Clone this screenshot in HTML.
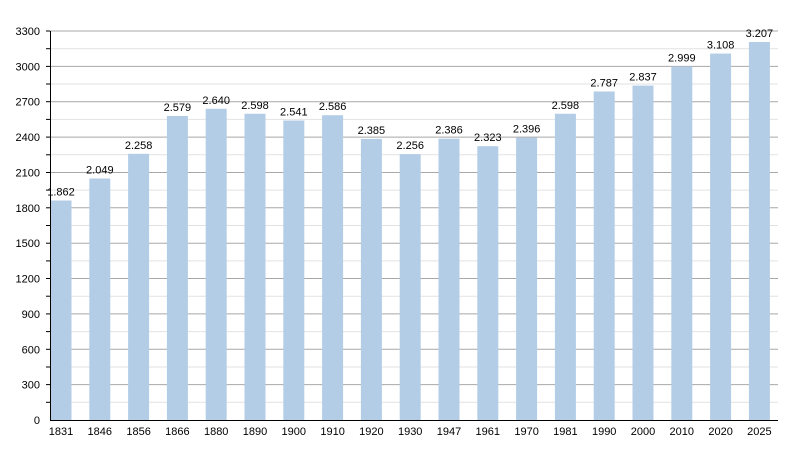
<!DOCTYPE html>
<html><head><meta charset="utf-8"><style>body{margin:0;background:#fff}svg{display:block}</style></head><body>
<svg width="800" height="450" xmlns="http://www.w3.org/2000/svg" font-family="Liberation Sans, sans-serif" font-size="11">
<rect width="800" height="450" fill="#fff"/>
<g stroke="#e2e2e2">
<line x1="50" x2="778" y1="402.3" y2="402.3"/><line x1="50" x2="778" y1="367" y2="367"/><line x1="50" x2="778" y1="331.6" y2="331.6"/><line x1="50" x2="778" y1="296.2" y2="296.2"/><line x1="50" x2="778" y1="260.9" y2="260.9"/><line x1="50" x2="778" y1="225.5" y2="225.5"/><line x1="50" x2="778" y1="190.1" y2="190.1"/><line x1="50" x2="778" y1="154.8" y2="154.8"/><line x1="50" x2="778" y1="119.4" y2="119.4"/><line x1="50" x2="778" y1="84" y2="84"/><line x1="50" x2="778" y1="48.7" y2="48.7"/>
</g>
<g stroke="#a8a8a8">
<line x1="50" x2="778" y1="384.6" y2="384.6"/><line x1="50" x2="778" y1="349.3" y2="349.3"/><line x1="50" x2="778" y1="313.9" y2="313.9"/><line x1="50" x2="778" y1="278.5" y2="278.5"/><line x1="50" x2="778" y1="243.2" y2="243.2"/><line x1="50" x2="778" y1="207.8" y2="207.8"/><line x1="50" x2="778" y1="172.5" y2="172.5"/><line x1="50" x2="778" y1="137.1" y2="137.1"/><line x1="50" x2="778" y1="101.7" y2="101.7"/><line x1="50" x2="778" y1="66.4" y2="66.4"/><line x1="50" x2="778" y1="31" y2="31"/>
</g>
<g stroke="#000">
<line x1="46" x2="50" y1="402.3" y2="402.3"/><line x1="46" x2="50" y1="367" y2="367"/><line x1="46" x2="50" y1="331.6" y2="331.6"/><line x1="46" x2="50" y1="296.2" y2="296.2"/><line x1="46" x2="50" y1="260.9" y2="260.9"/><line x1="46" x2="50" y1="225.5" y2="225.5"/><line x1="46" x2="50" y1="190.1" y2="190.1"/><line x1="46" x2="50" y1="154.8" y2="154.8"/><line x1="46" x2="50" y1="119.4" y2="119.4"/><line x1="46" x2="50" y1="84" y2="84"/><line x1="46" x2="50" y1="48.7" y2="48.7"/>
<line x1="46" x2="50" y1="384.6" y2="384.6"/><line x1="46" x2="50" y1="349.3" y2="349.3"/><line x1="46" x2="50" y1="313.9" y2="313.9"/><line x1="46" x2="50" y1="278.5" y2="278.5"/><line x1="46" x2="50" y1="243.2" y2="243.2"/><line x1="46" x2="50" y1="207.8" y2="207.8"/><line x1="46" x2="50" y1="172.5" y2="172.5"/><line x1="46" x2="50" y1="137.1" y2="137.1"/><line x1="46" x2="50" y1="101.7" y2="101.7"/><line x1="46" x2="50" y1="66.4" y2="66.4"/><line x1="46" x2="50" y1="31" y2="31"/>
</g>
<g text-anchor="end" fill="#000">
<text x="40" y="424">0</text><text x="40" y="388.6">300</text><text x="40" y="353.3">600</text><text x="40" y="317.9">900</text><text x="40" y="282.5">1200</text><text x="40" y="247.2">1500</text><text x="40" y="211.8">1800</text><text x="40" y="176.5">2100</text><text x="40" y="141.1">2400</text><text x="40" y="105.7">2700</text><text x="40" y="70.4">3000</text><text x="40" y="35">3300</text>
</g>
<g fill="#b3cde6">
<rect x="50.5" y="200.5" width="21" height="219.5"/>
<rect x="89.3" y="178.5" width="21" height="241.5"/>
<rect x="128.1" y="153.8" width="21" height="266.2"/>
<rect x="166.9" y="116" width="21" height="304"/>
<rect x="205.7" y="108.8" width="21" height="311.2"/>
<rect x="244.5" y="113.75" width="21" height="306.25"/>
<rect x="283.3" y="120.5" width="21" height="299.5"/>
<rect x="322.1" y="115.2" width="21" height="304.8"/>
<rect x="360.9" y="138.9" width="21" height="281.1"/>
<rect x="399.7" y="154.1" width="21" height="265.9"/>
<rect x="438.5" y="138.7" width="21" height="281.3"/>
<rect x="477.3" y="146.2" width="21" height="273.8"/>
<rect x="516.1" y="137.6" width="21" height="282.4"/>
<rect x="554.9" y="113.75" width="21" height="306.25"/>
<rect x="593.7" y="91.5" width="21" height="328.5"/>
<rect x="632.5" y="85.6" width="21" height="334.4"/>
<rect x="671.3" y="66.5" width="21" height="353.5"/>
<rect x="710.1" y="53.6" width="21" height="366.4"/>
<rect x="748.9" y="42" width="21" height="378"/>
</g>
<g text-anchor="middle" fill="#000">
<text x="61" y="195.5">1.862</text>
<text x="99.8" y="173.5">2.049</text>
<text x="138.6" y="148.8">2.258</text>
<text x="177.4" y="111">2.579</text>
<text x="216.2" y="103.8">2.640</text>
<text x="255" y="108.75">2.598</text>
<text x="293.8" y="115.5">2.541</text>
<text x="332.6" y="110.2">2.586</text>
<text x="371.4" y="133.9">2.385</text>
<text x="410.2" y="149.1">2.256</text>
<text x="449" y="133.7">2.386</text>
<text x="487.8" y="141.2">2.323</text>
<text x="526.6" y="132.6">2.396</text>
<text x="565.4" y="108.75">2.598</text>
<text x="604.2" y="86.5">2.787</text>
<text x="643" y="80.6">2.837</text>
<text x="681.8" y="61.5">2.999</text>
<text x="720.6" y="48.6">3.108</text>
<text x="759.4" y="37">3.207</text>
</g>
<g text-anchor="middle" fill="#000">
<text x="61" y="435">1831</text><text x="99.8" y="435">1846</text><text x="138.6" y="435">1856</text><text x="177.4" y="435">1866</text><text x="216.2" y="435">1880</text><text x="255" y="435">1890</text><text x="293.8" y="435">1900</text><text x="332.6" y="435">1910</text><text x="371.4" y="435">1920</text><text x="410.2" y="435">1930</text><text x="449" y="435">1947</text><text x="487.8" y="435">1961</text><text x="526.6" y="435">1970</text><text x="565.4" y="435">1981</text><text x="604.2" y="435">1990</text><text x="643" y="435">2000</text><text x="681.8" y="435">2010</text><text x="720.6" y="435">2020</text><text x="759.4" y="435">2025</text>
</g>
<line x1="50.5" x2="50.5" y1="31" y2="421" stroke="#000"/>
<line x1="50" x2="778" y1="420.5" y2="420.5" stroke="#000"/>
</svg>
</body></html>
